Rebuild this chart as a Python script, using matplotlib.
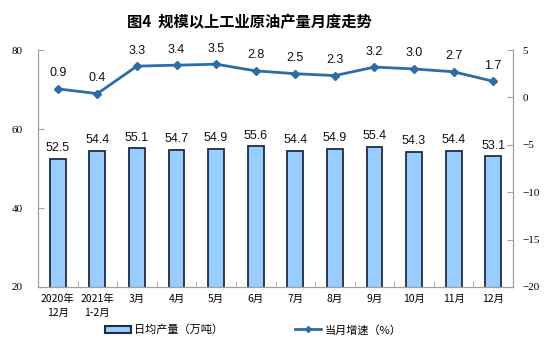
import matplotlib
matplotlib.use("Agg")
import matplotlib.pyplot as plt
from matplotlib.lines import Line2D
from matplotlib.patches import Patch

plt.rcParams['font.family'] = ['Noto Sans CJK SC', 'DejaVu Sans']

categories = ["2020年\n12月", "2021年\n1-2月", "3月", "4月", "5月", "6月", "7月", "8月", "9月", "10月", "11月", "12月"]
daily_output = [52.5, 54.4, 55.1, 54.7, 54.9, 55.6, 54.4, 54.9, 55.4, 54.3, 54.4, 53.1]
growth = [0.9, 0.4, 3.3, 3.4, 3.5, 2.8, 2.5, 2.3, 3.2, 3.0, 2.7, 1.7]

bar_color = "#99CCFF"
edge_color = "#1F2D44"
line_color = "#2E6DA4"
axis_gray = "#A0A0A0"

fig = plt.figure(figsize=(5.54, 3.62), dpi=100)
ax = fig.add_axes([38/554, 1-287/362, (513-38)/554, (287-50)/362])
ax2 = ax.twinx()

x = list(range(len(categories)))
ax.bar(x, daily_output, width=0.4, color=bar_color, edgecolor=edge_color, linewidth=1.3, zorder=2)
ax.set_ylim(20, 80)
ax.set_yticks([20, 40, 60, 80])
ax.set_xlim(-0.5, len(categories) - 0.5)
ax.set_xticks(x)
ax.set_xticklabels(categories, fontsize=7.5, linespacing=1.5)
ax.set_xticks([i + 0.5 for i in range(-1, len(categories))], minor=True)
ax.tick_params(axis='x', which='major', length=0, pad=5)
ax.tick_params(axis='x', which='minor', length=4, color=axis_gray, direction='in')

for xi, v in zip(x, daily_output):
    ax.text(xi, v + 1.2, f"{v:.1f}", ha='center', va='bottom', fontsize=9,
            family=['Liberation Sans', 'DejaVu Sans'], color='#111111')

ax2.plot(x, growth, color=line_color, linewidth=2, marker='D', markersize=4, zorder=3)
ax2.set_ylim(-20, 5)
ax2.set_yticks([-20, -15, -10, -5, 0, 5])
for xi, v in zip(x, growth):
    ax2.text(xi, v + 1.0, f"{v:.1f}", ha='center', va='bottom', fontsize=9,
             family=['Liberation Sans', 'DejaVu Sans'], color='#111111')

for a in (ax, ax2):
    a.spines['top'].set_visible(False)
    for s in ('left', 'right', 'bottom'):
        a.spines[s].set_color(axis_gray)
        a.spines[s].set_linewidth(0.8)
    a.tick_params(axis='y', length=4, color=axis_gray, labelsize=8, direction='in')
    for lab in a.get_yticklabels():
        lab.set_family(['Liberation Serif', 'DejaVu Serif'])
ax.tick_params(axis='y', pad=11)
ax2.tick_params(axis='y', pad=7)

fig.text(0.45, 1-22/362, "图4  规模以上工业原油产量月度走势", ha='center', va='center',
         fontsize=11, fontweight='bold')

handles = [Patch(facecolor=bar_color, edgecolor=edge_color, linewidth=1.5),
           Line2D([0], [0], color=line_color, linewidth=2, marker='D', markersize=3)]
labels = ["日均产量（万吨）", "当月增速（%）"]
fig.legend(handles, labels, loc='center', bbox_to_anchor=(0.457, 1-330/362), ncol=2,
           frameon=False, fontsize=8, columnspacing=6.5, handlelength=2.3, handletextpad=0.3)

fig.savefig("out.png", dpi=100, facecolor='white')
